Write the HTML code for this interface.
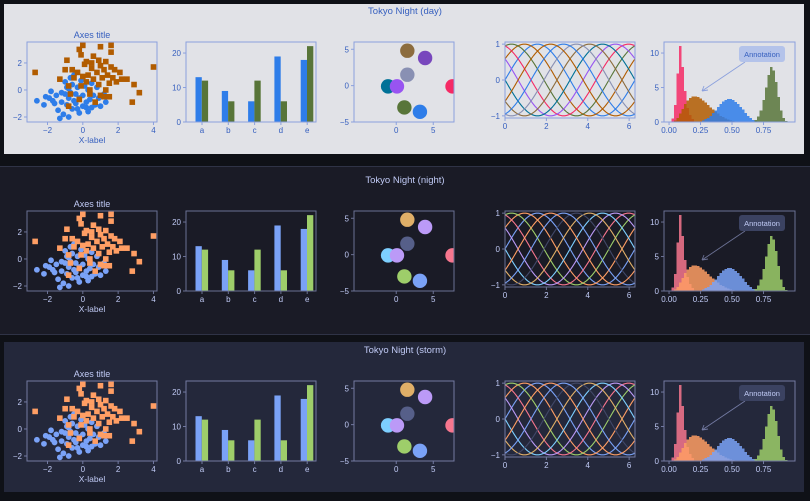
<!DOCTYPE html>
<html><head><meta charset="utf-8"><style>
html,body{margin:0;padding:0;background:#0f1117;}
svg{display:block;font-family:"Liberation Sans","DejaVu Sans",sans-serif;}
</style></head><body>
<svg id="chart" width="810" height="501" viewBox="0 0 810 501" xmlns="http://www.w3.org/2000/svg"></svg>
<script>
// ---- data ----
const scatterBlueX=[-2.6,-2.2,-2.1,-1.8,-1.7,-1.5,-1.4,-1.3,-1.2,-1.1,-1.0,-1.0,-0.9,-0.9,-0.8,-0.8,-0.7,-0.7,-0.6,-0.6,-0.5,-0.5,-0.4,-0.4,-0.3,-0.2,-0.2,-0.1,0.0,0.0,0.1,0.2,0.2,0.3,0.4,0.5,0.5,0.6,0.7,0.8,0.9,1.0,1.2,1.3,-1.6,-1.2,-0.3,0.3,-0.8,-1.9];
const scatterBlueY=[-0.8,-1.1,-0.5,-0.1,-0.8,-0.4,-1.5,-2.1,-0.9,-1.8,-0.3,0.6,-1.1,0.2,-2.0,-0.6,0.9,-0.2,-1.4,0.4,-0.8,1.1,-0.3,-1.0,0.2,-1.7,-0.6,0.7,-1.2,-0.4,0.3,-0.9,-1.3,0.0,-0.7,-1.3,0.5,-0.4,-1.1,0.2,-0.6,-1.2,-0.3,-0.9,-1.0,-0.2,-1.4,-1.6,0.1,-0.6];
const scatterOrangeX=[-2.7,-1.3,-0.9,-1.0,-0.8,-0.8,-0.6,-0.5,-0.7,-0.3,-0.2,-0.1,-0.2,-0.1,0.0,0.1,0.2,0.2,0.3,0.4,0.4,0.5,0.6,0.6,0.7,0.8,0.9,0.9,1.0,1.0,1.0,1.1,1.2,1.3,1.3,1.4,1.5,1.5,1.6,1.6,1.6,1.7,1.8,1.9,2.1,2.2,2.5,2.9,3.2,2.8,4.0,0.5,1.2,0.0];
const scatterOrangeY=[1.3,0.8,2.2,1.5,0.3,-1.2,1.5,0.9,-0.3,1.3,-0.7,0.3,3.0,2.6,3.3,1.9,2.1,0.6,1.1,-0.3,0.0,1.6,0.8,2.5,-0.9,1.3,2.2,0.4,1.8,-0.4,3.2,0.9,1.5,0.0,2.1,1.1,0.5,-0.5,3.3,1.7,2.8,0.9,1.5,0.6,1.3,0.8,0.8,0.4,-0.2,-0.9,1.7,2.0,-0.5,1.0];
const barCategories=["a","b","c","d","e"];
const barSeries1=[13,9,6,19,18];
const barSeries2=[12,6,12,6,22];
const circleX=[1.5,3.9,1.5,-1.1,0.1,7.6,1.1,3.2];
const circleY=[4.8,3.8,1.5,-0.1,-0.1,-0.1,-3.0,-3.6];
const sinePhases=[0,0.63,1.26,1.88,2.51,3.14,3.77,4.40,5.03,5.65];
const histRedStart=0.0;
const histRed=[0,0.5,2.5,7,11,8,4.5,2,1,0.4,0.1];
const histOrangeStart=0.04;
const histOrange=[0.2,0.6,1.2,1.9,2.6,3.1,3.5,3.7,3.7,3.6,3.4,3.1,2.8,2.5,2.1,1.8,1.5,1.2,0.9,0.7,0.5,0.35,0.25,0.15,0.1,0.05];
const histBlueStart=0.24;
const histBlue=[0.1,0.2,0.4,0.6,0.9,1.3,1.7,2.2,2.6,3.0,3.2,3.3,3.3,3.2,2.9,2.6,2.2,1.8,1.3,0.9,0.6,0.3,0.15,0.05];
const histGreenStart=0.66;
const histGreen=[0.1,0.3,0.8,1.7,3.2,5.0,6.8,8.0,7.5,5.8,3.6,1.7,0.6,0.15,0.05];
const scatterXTicks=[-2,0,2,4];
const scatterYTicks=[-2,0,2];
const barYTicks=[0,10,20];
const circleXTicks=[0,5];
const circleYTicks=[-5,0,5];
const sineXTicks=[0,2,4,6];
const sineYTicks=[-1,0,1];
const histXTicks=[0,0.25,0.5,0.75];
const histXTickLabels=["0.00","0.25","0.50","0.75"];
const histYTicks=[0,5,10];

const themes=[
 {name:"day",title:"Tokyo Night (day)",dy:0,panel:[4,4,800,150],bg:"#e1e2e7",text:"#3760bf",spine:"#8ba0dd",
  blue:"#2e7de9",orange:"#b15c00",green:"#587539",red:"#f52a65",
  circ:["#8c6c3e","#7847bd","#8990b3","#007197","#9854f1","#f52a65","#587539","#2e7de9"],
  sine:["#2e7de9","#b15c00","#587539","#f52a65","#9854f1","#007197","#8c6c3e","#8990b3","#2e7de9","#b15c00"],
  annFill:"#b4c3ea",annText:"#3760bf",border:null},
 {name:"night",title:"Tokyo Night (night)",dy:169,panel:[0,166,810,169],bg:"#1a1b26",text:"#c0caf5",spine:"#6b7194",
  blue:"#7aa2f7",orange:"#ff9e64",green:"#9ece6a",red:"#f7768e",
  circ:["#e0af68","#bb9af7","#565f89","#7dcfff","#bb9af7","#f7768e","#9ece6a","#7aa2f7"],
  sine:["#7aa2f7","#ff9e64","#9ece6a","#f7768e","#bb9af7","#7dcfff","#e0af68","#414868","#7aa2f7","#ff9e64"],
  annFill:"#3b4261",annText:"#c0caf5",border:"#2f3346"},
 {name:"storm",title:"Tokyo Night (storm)",dy:339,panel:[4,342,800,150],bg:"#24283b",text:"#c0caf5",spine:"#737aa2",
  blue:"#7aa2f7",orange:"#ff9e64",green:"#9ece6a",red:"#f7768e",
  circ:["#e0af68","#bb9af7","#565f89","#7dcfff","#bb9af7","#f7768e","#9ece6a","#7aa2f7"],
  sine:["#7aa2f7","#ff9e64","#9ece6a","#f7768e","#bb9af7","#7dcfff","#e0af68","#414868","#7aa2f7","#ff9e64"],
  annFill:"#3b4261",annText:"#c0caf5",border:null}
];

const NS="http://www.w3.org/2000/svg";
const svg=document.getElementById("chart");
function mk(tag,attrs,parent){const e=document.createElementNS(NS,tag);for(const k in attrs)e.setAttribute(k,attrs[k]);(parent||svg).appendChild(e);return e;}
function scale(d0,d1,p0,p1){return v=>p0+(v-d0)/(d1-d0)*(p1-p0);}
function txt(parent,x,y,s,fill,size,anchor){const t=mk("text",{x:x,y:y,fill:fill,"font-size":size,"text-anchor":anchor||"middle"},parent);t.textContent=s;return t;}

function axesFrame(g,th,x0,y0,x1,y1,xs,ys,xt,yt,xl,yl){
  const f=mk("rect",{x:x0,y:y0,width:x1-x0,height:y1-y0,fill:"none",stroke:th.spine,"stroke-width":1},g);
  
  
  xt.forEach((v,i)=>{const px=xs(v);mk("line",{x1:px,x2:px,y1:y1,y2:y1+3,stroke:th.spine},g);
    const t=txt(g,px,y1+11,xl?xl[i]:String(v).replace("-","\u2212"),th.text,8);
    
    });
  yt.forEach((v,i)=>{const py=ys(v);mk("line",{x1:x0-3,x2:x0,y1:py,y2:py,stroke:th.spine},g);
    const t=txt(g,x0-5,py+3,yl?yl[i]:String(v).replace("-","\u2212"),th.text,8,"end");
    
    });
}

themes.forEach(th=>{
  const dy=th.dy;
  const g=mk("g",{});
  
  
  const p=th.panel;
  const bgR=mk("rect",{x:p[0],y:p[1],width:p[2],height:p[3],fill:th.bg},g);
  
  
  if(th.border){mk("line",{x1:0,x2:810,y1:p[1]+0.5,y2:p[1]+0.5,stroke:th.border},g);mk("line",{x1:0,x2:810,y1:p[1]+p[3]-0.5,y2:p[1]+p[3]-0.5,stroke:th.border},g);}
  const tt=txt(g,405,14+dy,th.title,th.text,9.5);
  
  

  // scatter
  {const x0=27,x1=157,y0=42+dy,y1=122+dy;
   const xs=scale(-3.16,4.2,x0,x1), ys=scale(-2.37,3.55,y1,y0);
   const sg=mk("g",{},g);
   
   
   scatterBlueX.forEach((v,i)=>{const c=mk("circle",{cx:xs(v),cy:ys(scatterBlueY[i]),r:2.9,fill:th.blue},sg);
     
     });
   scatterOrangeX.forEach((v,i)=>{const r=mk("rect",{x:xs(v)-2.8,y:ys(scatterOrangeY[i])-2.8,width:5.6,height:5.6,fill:th.orange},sg);
     
     });
   axesFrame(sg,th,x0,y0,x1,y1,xs,ys,scatterXTicks,scatterYTicks);
   const at=txt(sg,92,y0-4,"Axes title",th.text,9);
   
   
   const xl=txt(sg,92,y1+21,"X-label",th.text,8.5);
   
   }

  // bars
  {const x0=186,x1=316,y0=42+dy,y1=122+dy;
   const ys=scale(0,23.2,y1,y0);
   const cx=i=>202+i*26.3;
   const bg=mk("g",{},g);
   
   
   barCategories.forEach((c,i)=>{
     const b1=mk("rect",{x:cx(i)-6.5,y:ys(barSeries1[i]),width:6.3,height:y1-ys(barSeries1[i]),fill:th.blue},bg);
     
     
     const b2=mk("rect",{x:cx(i)-0.2,y:ys(barSeries2[i]),width:6.3,height:y1-ys(barSeries2[i]),fill:th.green},bg);
     
     
   });
   const f=mk("rect",{x:x0,y:y0,width:x1-x0,height:y1-y0,fill:"none",stroke:th.spine},bg);
   
   
   barCategories.forEach((c,i)=>{mk("line",{x1:cx(i),x2:cx(i),y1:y1,y2:y1+3,stroke:th.spine},bg);
     const t=txt(bg,cx(i),y1+11,c,th.text,8);
     
     });
   barYTicks.forEach(v=>{const py=ys(v);mk("line",{x1:x0-3,x2:x0,y1:py,y2:py,stroke:th.spine},bg);
     const t=txt(bg,x0-5,py+3,String(v),th.text,8,"end");
     
     });}

  // circles
  {const x0=354,x1=454,y0=42+dy,y1=122+dy;
   const xs=scale(-5.7,7.8,x0,x1), ys=scale(-5,6,y1,y0);
   const cg=mk("g",{},g);
   
   
   const cp=mk("clipPath",{id:"clipc"+th.name},cg);mk("rect",{x:x0,y:y0,width:x1-x0,height:y1-y0},cp);
   const inner=mk("g",{"clip-path":"url(#clipc"+th.name+")"},cg);
   circleX.forEach((v,i)=>{const c=mk("circle",{cx:xs(v),cy:ys(circleY[i]),r:7.2,fill:th.circ[i]},inner);
     
     });
   axesFrame(cg,th,x0,y0,x1,y1,xs,ys,circleXTicks,circleYTicks);}

  // sines
  {const x0=505,x1=635,y0=42+dy,y1=118+dy;
   const xs=scale(0,6.283,x0,x1), ys=scale(-1.06,1.06,y1,y0);
   const lg=mk("g",{},g);
   
   
   sinePhases.forEach((ph,k)=>{let d="";for(let i=0;i<=100;i++){const x=6.283*i/100;d+=(i?"L":"M")+xs(x).toFixed(1)+","+ys(Math.sin(x+ph)).toFixed(1);}
     const pth=mk("path",{d:d,fill:"none",stroke:th.sine[k],"stroke-width":1.1},lg);
     
     });
   axesFrame(lg,th,x0,y0,x1,y1,xs,ys,sineXTicks,sineYTicks);}

  // histograms
  {const x0=664,x1=795,y0=42+dy,y1=122+dy;
   const xs=scale(-0.04,1.0,x0,x1), ys=scale(0,11.6,y1,y0);
   const hg=mk("g",{},g);
   
   
   const sets=[[histRedStart,histRed,th.red],[histOrangeStart,histOrange,th.orange],[histBlueStart,histBlue,th.blue],[histGreenStart,histGreen,th.green]];
   sets.forEach(s=>{let d="M"+xs(s[0]).toFixed(1)+","+y1;s[1].forEach((h,i)=>{const a=s[0]+i*0.02;d+="L"+xs(a).toFixed(1)+","+ys(h).toFixed(1)+"L"+xs(a+0.02).toFixed(1)+","+ys(h).toFixed(1);});
     d+="L"+xs(s[0]+s[1].length*0.02).toFixed(1)+","+y1+"Z";
     const pth=mk("path",{d:d,fill:s[2],"fill-opacity":0.85,"shape-rendering":"crispEdges"},hg);
     
     });
   axesFrame(hg,th,x0,y0,x1,y1,xs,ys,histXTicks,histYTicks,histXTickLabels);
   const ar=mk("path",{d:`M745,${62+dy} L702,${91+dy} M702,${91+dy} l6,-1 M702,${91+dy} l2,-5`,stroke:th.spine,"stroke-width":0.9,fill:"none"},hg);
   
   
   const box=mk("rect",{x:739,y:46+dy,width:46,height:16,rx:3,fill:th.annFill},hg);
   
   
   const at=txt(hg,762,57+dy,"Annotation",th.annText,7.5);
   
   }
});
</script>
</body></html>
